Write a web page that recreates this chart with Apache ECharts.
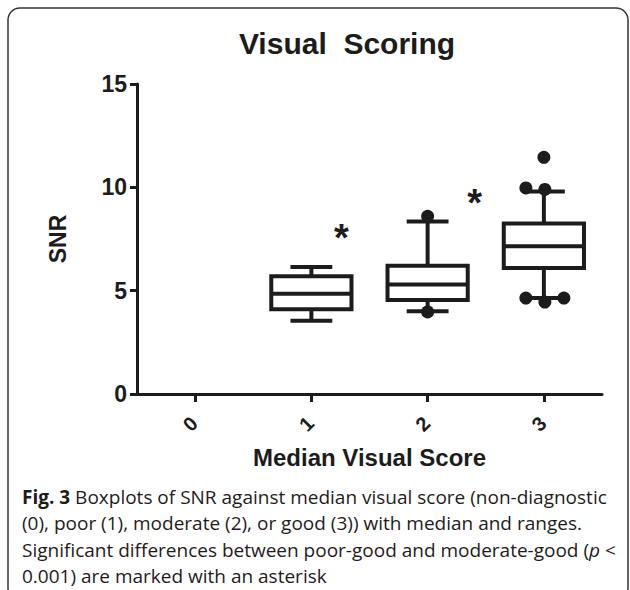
<!DOCTYPE html>
<html>
<head>
<meta charset="utf-8">
<script src="https://cdn.jsdelivr.net/npm/echarts@6/dist/echarts.min.js"></script>
<style>
html,body{margin:0;padding:0;background:#fff;}
#chart{width:630px;height:590px;}
</style>
</head>
<body>
<div id="chart"></div>
<script>
// ---- data ----
const categories = ['0', '1', '2', '3'];
const yTicks = [0, 5, 10, 15];
// [category index, min, Q1, median, Q3, max]
const boxStats = [
  [1, 3.55, 4.10, 4.85, 5.70, 6.15],
  [2, 4.00, 4.55, 5.30, 6.20, 8.35],
  [3, 4.65, 6.10, 7.15, 8.25, 9.80]
];
// outlier points: [category index, value]
const outliers = [
  [2, 8.60], [2, 3.97],
  [3, 11.45], [3, 9.97], [3, 9.90],
  [3, 4.64], [3, 4.45], [3, 4.64]
];
// horizontal spread of overlapping outlier dots (px, styling only)
const outlierSpread = [0, 0, 0, -18, 1, -18, 1, 20];
// significance markers: [category index, value]
const asterisks = [[1, 7.85], [2, 9.55]];
// label shift of the markers (px, styling only)
const asteriskShift = [[30, 6], [47, 6]];

const captionLines = [
  '{b|Fig. 3} Boxplots of SNR against median visual score (non-diagnostic',
  '(0), poor (1), moderate (2), or good (3)) with median and ranges.',
  'Significant differences between poor-good and moderate-good ({i|p} <',
  '0.001) are marked with an asterisk'
];

const INK = '#1c1c1c';
const CAP = 19;
const chart = echarts.init(document.getElementById('chart'), null, {renderer: 'svg'});

const captionGraphics = captionLines.map((t, i) => ({
  type: 'text',
  x: 22,
  y: 497 + i * 26.4,
  style: {
    text: t,
    fill: '#1f1b1c',
    font: CAP + 'px "Open Sans"',
    textVerticalAlign: 'middle',
    rich: {
      b: {font: 'bold ' + CAP + 'px "Open Sans"', fill: '#1f1b1c'},
      i: {font: 'italic ' + CAP + 'px "Open Sans"', fill: '#1f1b1c'}
    }
  }
}));

chart.setOption({
  animation: false,
  grid: {left: 137, right: 28, top: 84, bottom: 196, containLabel: false},
  xAxis: {
    type: 'category',
    data: categories,
    boundaryGap: true,
    name: 'Median Visual Score',
    nameLocation: 'middle',
    nameGap: 51,
    nameTextStyle: {fontFamily: 'Liberation Sans', fontWeight: 'bold', fontSize: 24, color: INK},
    axisLine: {lineStyle: {color: INK, width: 3}},
    axisTick: {show: true, alignWithLabel: true, length: 8, lineStyle: {color: INK, width: 3}},
    axisLabel: {
      rotate: 45, margin: 25, align: 'center', verticalAlign: 'middle', padding: [0, 14, 0, 0],
      fontFamily: 'Liberation Sans', fontWeight: 'bold', fontSize: 20, color: INK
    },
    splitLine: {show: false}
  },
  yAxis: {
    type: 'value',
    min: yTicks[0],
    max: yTicks[yTicks.length - 1],
    interval: yTicks[1] - yTicks[0],
    name: 'SNR',
    nameLocation: 'middle',
    nameGap: 68,
    nameRotate: 90,
    nameTextStyle: {fontFamily: 'Liberation Sans', fontWeight: 'bold', fontSize: 23, color: INK},
    axisLine: {show: true, lineStyle: {color: INK, width: 3}},
    axisTick: {show: true, length: 7, lineStyle: {color: INK, width: 3}},
    axisLabel: {margin: 10, fontFamily: 'Liberation Sans', fontWeight: 'bold', fontSize: 23, color: INK},
    splitLine: {show: false}
  },
  graphic: [
    {
      type: 'rect',
      shape: {x: 8, y: 8, width: 620, height: 592, r: 12},
      style: {fill: 'none', stroke: '#333', lineWidth: 1.5},
      z: -10
    },
    {
      type: 'text',
      x: 347,
      y: 43,
      style: {
        text: 'Visual  Scoring',
        fill: INK,
        font: 'bold 30px "Liberation Sans"',
        textAlign: 'center',
        textVerticalAlign: 'middle'
      }
    }
  ].concat(captionGraphics),
  series: [
    {
      type: 'custom',
      data: boxStats,
      encode: {x: 0, y: [1, 2, 3, 4, 5]},
      renderItem: function (params, api) {
        const c = api.value(0);
        const pMin = api.coord([c, api.value(1)]);
        const pQ1 = api.coord([c, api.value(2)]);
        const pMed = api.coord([c, api.value(3)]);
        const pQ3 = api.coord([c, api.value(4)]);
        const pMax = api.coord([c, api.value(5)]);
        const band = api.size([1, 0])[0];
        const bw = band * 0.69 / 2;
        const cw = band * 0.36 / 2;
        const x = pMed[0];
        const st = {stroke: INK, lineWidth: 4, fill: 'none'};
        return {
          type: 'group',
          children: [
            {type: 'line', shape: {x1: x, y1: pMax[1], x2: x, y2: pQ3[1]}, style: st},
            {type: 'line', shape: {x1: x, y1: pQ1[1], x2: x, y2: pMin[1]}, style: st},
            {type: 'line', shape: {x1: x - cw, y1: pMax[1], x2: x + cw, y2: pMax[1]}, style: st},
            {type: 'line', shape: {x1: x - cw, y1: pMin[1], x2: x + cw, y2: pMin[1]}, style: st},
            {type: 'rect', shape: {x: x - bw, y: pQ3[1], width: 2 * bw, height: pQ1[1] - pQ3[1]}, style: {stroke: INK, lineWidth: 4, fill: '#fff'}},
            {type: 'line', shape: {x1: x - bw, y1: pMed[1], x2: x + bw, y2: pMed[1]}, style: st}
          ]
        };
      },
      z: 2
    },
    {
      type: 'scatter',
      data: outliers.map((p, i) => ({value: p, symbolOffset: [outlierSpread[i], 0]})),
      symbol: 'circle',
      symbolSize: 13,
      itemStyle: {color: INK, opacity: 1},
      z: 3
    },
    {
      type: 'scatter',
      data: asterisks.map((p, i) => ({
        value: p,
        label: {offset: asteriskShift[i]}
      })),
      symbolSize: 0,
      itemStyle: {opacity: 1},
      label: {
        show: true,
        formatter: '*',
        position: 'inside',
        fontFamily: 'Liberation Sans',
        fontWeight: 'bold',
        fontSize: 38,
        color: INK,
        opacity: 1
      },
      z: 4
    }
  ]
});
</script>
</body>
</html>
